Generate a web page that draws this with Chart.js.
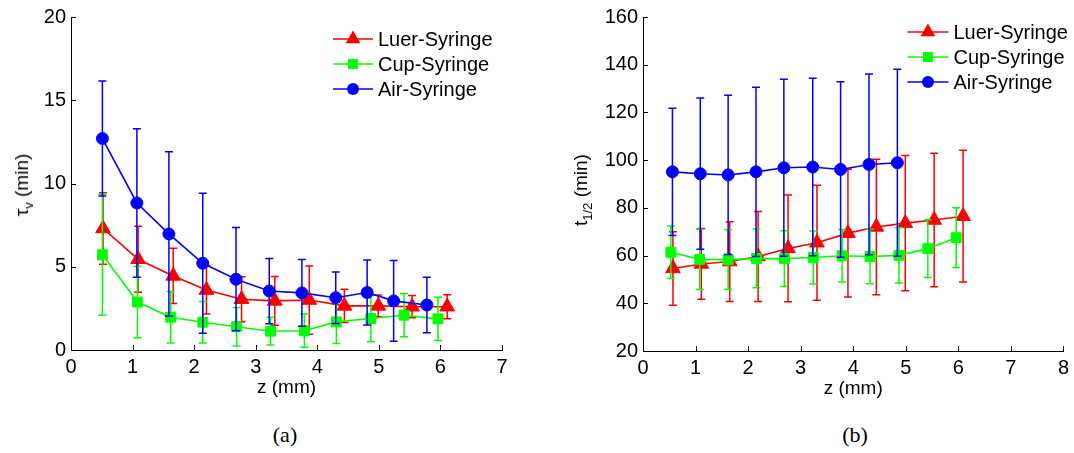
<!DOCTYPE html>
<html>
<head>
<meta charset="utf-8">
<script src="https://cdn.jsdelivr.net/npm/chart.js@4.4.1/dist/chart.umd.min.js"></script>
<style>
html,body{margin:0;padding:0;background:#fff;}
body{width:1074px;height:453px;position:relative;overflow:hidden;font-family:"Liberation Sans",Arial,sans-serif;}
.box{position:absolute;}
.ytitle{position:absolute;font-size:19px;line-height:20px;white-space:nowrap;color:#000;transform:translate(-50%,-50%) rotate(-90deg);}
.ytitle sub{font-size:13px;vertical-align:-5px;line-height:0;}
.cap{position:absolute;font-family:"Liberation Serif","Times New Roman",serif;font-size:22px;color:#000;transform:translate(-50%,-50%);}
</style>
</head>
<body>
<div class="box" style="left:0;top:0;width:530px;height:400px;"><canvas id="chartA"></canvas></div>
<div class="box" style="left:560px;top:0;width:514px;height:401px;"><canvas id="chartB"></canvas></div>
<div class="ytitle" style="left:22px;top:185px;">τ<sub>v</sub> (min)</div>
<div class="ytitle" style="left:581px;top:190px;">t<sub>1/2</sub> (min)</div>
<div class="cap" style="left:285px;top:435px;">(a)</div>
<div class="cap" style="left:855px;top:435px;">(b)</div>
<script>
const LABELS = ['Luer-Syringe', 'Cup-Syringe', 'Air-Syringe'];
const COLORS = ['#ff0000', '#00ff00', '#0000ff'];
const MARKERS = ['triangle', 'rect', 'circle'];
const MARKER_R = [8.5, 7, 6];

// (a) tau_v vs z
const aLuerX = [0.52, 1.09, 1.66, 2.20, 2.77, 3.31, 3.87, 4.44, 4.99, 5.54, 6.11];
const aLuerY = [7.3, 5.45, 4.45, 3.6, 3.05, 2.95, 3.0, 2.65, 2.65, 2.6, 2.6];
const aLuerErr = [2.15, 1.98, 1.66, 1.44, 1.35, 1.47, 2.05, 1.0, 0.65, 0.67, 0.72];
const aCupX = [0.51, 1.08, 1.62, 2.14, 2.69, 3.24, 3.79, 4.31, 4.87, 5.41, 5.96];
const aCupY = [5.72, 2.88, 1.97, 1.67, 1.4, 1.13, 1.16, 1.69, 1.89, 2.09, 1.87];
const aCupErr = [3.63, 2.14, 1.55, 1.25, 1.16, 0.83, 1.0, 1.3, 1.4, 1.3, 1.3];
const aAirX = [0.51, 1.07, 1.59, 2.14, 2.68, 3.22, 3.75, 4.30, 4.81, 5.24, 5.78];
const aAirY = [12.7, 8.83, 6.97, 5.21, 4.25, 3.54, 3.43, 3.14, 3.45, 2.95, 2.7];
const aAirErr = [3.45, 4.46, 4.93, 4.2, 3.1, 1.96, 2.0, 1.55, 1.95, 2.43, 1.67];
const aXTicks = [0, 1, 2, 3, 4, 5, 6, 7];
const aYTicks = [0, 5, 10, 15, 20];

// (b) t_1/2 vs z
const bLuerX = [0.57, 1.11, 1.65, 2.19, 2.76, 3.31, 3.90, 4.44, 4.99, 5.54, 6.09];
const bLuerY = [54.6, 56.5, 57.5, 59.6, 63.0, 65.4, 69.4, 72.0, 73.6, 74.9, 76.5];
const bLuerErr = [15.4, 14.8, 16.7, 18.9, 22.4, 24.1, 26.8, 28.4, 28.3, 28.0, 27.6];
const bCupX = [0.53, 1.08, 1.62, 2.16, 2.69, 3.24, 3.79, 4.32, 4.87, 5.42, 5.96];
const bCupY = [61.4, 58.4, 58.3, 58.8, 58.7, 59.2, 59.9, 59.6, 60.1, 62.9, 67.5];
const bCupErr = [11.0, 12.6, 12.5, 12.3, 11.7, 11.1, 11.0, 11.4, 11.6, 12.1, 12.5];
const bAirX = [0.56, 1.09, 1.62, 2.15, 2.68, 3.23, 3.76, 4.30, 4.84];
const bAirY = [95.1, 94.3, 93.8, 95.1, 96.8, 97.1, 96.1, 98.2, 98.9];
const bAirErr = [26.7, 31.7, 33.4, 35.5, 37.1, 37.2, 36.8, 37.9, 39.2];
const bXTicks = [0, 1, 2, 3, 4, 5, 6, 7, 8];
const bYTicks = [20, 40, 60, 80, 100, 120, 140, 160];

const FAMILY = '"Liberation Sans", Arial, sans-serif';
const TICK_FONT = {family: FAMILY, size: 20};
const TITLE_FONT = {family: FAMILY, size: 19};

const pts = (xs, ys) => xs.map((x, i) => ({x, y: ys[i]}));

function series(i, xs, ys, err) {
  return {
    label: LABELS[i], data: pts(xs, ys), err,
    borderColor: COLORS[i], backgroundColor: COLORS[i], pointBackgroundColor: COLORS[i],
    pointBorderColor: COLORS[i], borderWidth: 1.6, pointStyle: MARKERS[i],
    pointRadius: MARKER_R[i], pointHoverRadius: MARKER_R[i], pointBorderWidth: 1,
    order: 2 - i, tension: 0, fill: false
  };
}

// vertical error bars with caps, drawn just under each series
const errorBars = {
  id: 'errorBars',
  beforeDatasetDraw(chart, args) {
    const ds = chart.data.datasets[args.index];
    if (!ds.err) return;
    const ys = chart.scales.y, ctx = chart.ctx;
    ctx.save();
    ctx.strokeStyle = ds.borderColor;
    ctx.lineWidth = 1.5;
    ctx.beginPath();
    args.meta.data.forEach((p, i) => {
      const v = ds.data[i].y, e = ds.err[i];
      const t = ys.getPixelForValue(v + e), b = ys.getPixelForValue(v - e);
      ctx.moveTo(p.x, t); ctx.lineTo(p.x, b);
      ctx.moveTo(p.x - 4, t); ctx.lineTo(p.x + 4, t);
      ctx.moveTo(p.x - 4, b); ctx.lineTo(p.x + 4, b);
    });
    ctx.stroke();
    ctx.restore();
  }
};

// ticks pointing into the plot, matlab style
const innerTicks = {
  id: 'innerTicks',
  afterDraw(chart) {
    const {ctx, chartArea: a, scales: {x, y}} = chart;
    ctx.save();
    ctx.strokeStyle = '#000';
    ctx.lineWidth = 1;
    ctx.beginPath();
    x.ticks.forEach(t => { const p = Math.round(x.getPixelForValue(t.value)) + 0.5; ctx.moveTo(p, a.bottom); ctx.lineTo(p, a.bottom - 5); });
    y.ticks.forEach(t => { const p = Math.round(y.getPixelForValue(t.value)) + 0.5; ctx.moveTo(a.left, p); ctx.lineTo(a.left + 5, p); });
    ctx.stroke();
    ctx.restore();
  }
};

// legend entries: line with marker in the middle, no box
const lineLegend = {
  id: 'lineLegend',
  afterDraw(chart, args, o) {
    const {ctx, chartArea} = chart;
    ctx.save();
    ctx.font = TICK_FONT.size + 'px ' + FAMILY;
    ctx.textBaseline = 'middle';
    chart.data.datasets.forEach((ds, i) => {
      const y = chartArea.top + o.top + i * o.gap;
      const x0 = chartArea.right - o.right;
      ctx.strokeStyle = ds.borderColor;
      ctx.lineWidth = ds.borderWidth;
      ctx.beginPath(); ctx.moveTo(x0, y); ctx.lineTo(x0 + o.len, y); ctx.stroke();
      ctx.fillStyle = ds.pointBackgroundColor;
      Chart.helpers.drawPoint(ctx, {pointStyle: ds.pointStyle, radius: ds.pointRadius, borderWidth: 0}, x0 + o.len / 2, y);
      ctx.fillStyle = '#000';
      ctx.fillText(ds.label, x0 + o.len + 5, y + 1);
    });
    ctx.restore();
  }
};

function makeChart(id, datasets, xTicks, yTicks, yWidth, pad, legend) {
  return new Chart(document.getElementById(id), {
    type: 'line',
    data: {datasets},
    options: {
      responsive: true, maintainAspectRatio: false, animation: false,
      layout: {padding: pad},
      plugins: {legend: {display: false}, tooltip: {enabled: false}, lineLegend: legend},
      scales: {
        x: {
          type: 'linear', min: xTicks[0], max: xTicks[xTicks.length - 1],
          afterBuildTicks: s => { s.ticks = xTicks.map(v => ({value: v})); },
          afterFit: s => { s.height = 50; },
          grid: {display: false, drawTicks: false},
          border: {display: true, color: '#000', width: 1},
          ticks: {color: '#000', font: TICK_FONT, padding: 5, maxRotation: 0},
          title: {display: true, text: 'z (mm)', color: '#000', font: TITLE_FONT, padding: {top: 0, bottom: 1}}
        },
        y: {
          type: 'linear', min: yTicks[0], max: yTicks[yTicks.length - 1],
          afterBuildTicks: s => { s.ticks = yTicks.map(v => ({value: v})); },
          afterFit: s => { s.width = yWidth; },
          grid: {display: false, drawTicks: false},
          border: {display: true, color: '#000', width: 1},
          ticks: {color: '#000', font: TICK_FONT, padding: 5}
        }
      }
    },
    plugins: [errorBars, innerTicks, lineLegend]
  });
}

makeChart('chartA', [
  series(0, aLuerX, aLuerY, aLuerErr),
  series(1, aCupX, aCupY, aCupErr),
  series(2, aAirX, aAirY, aAirErr)
], aXTicks, aYTicks, 71, {top: 15, right: 28, left: 0, bottom: 0}, {top: 22, gap: 25, right: 169, len: 40});

makeChart('chartB', [
  series(0, bLuerX, bLuerY, bLuerErr),
  series(1, bCupX, bCupY, bCupErr),
  series(2, bAirX, bAirY, bAirErr)
], bXTicks, bYTicks, 83, {top: 15, right: 6, left: 0, bottom: 0}, {top: 15, gap: 25, right: 156, len: 41});
</script>
</body>
</html>
